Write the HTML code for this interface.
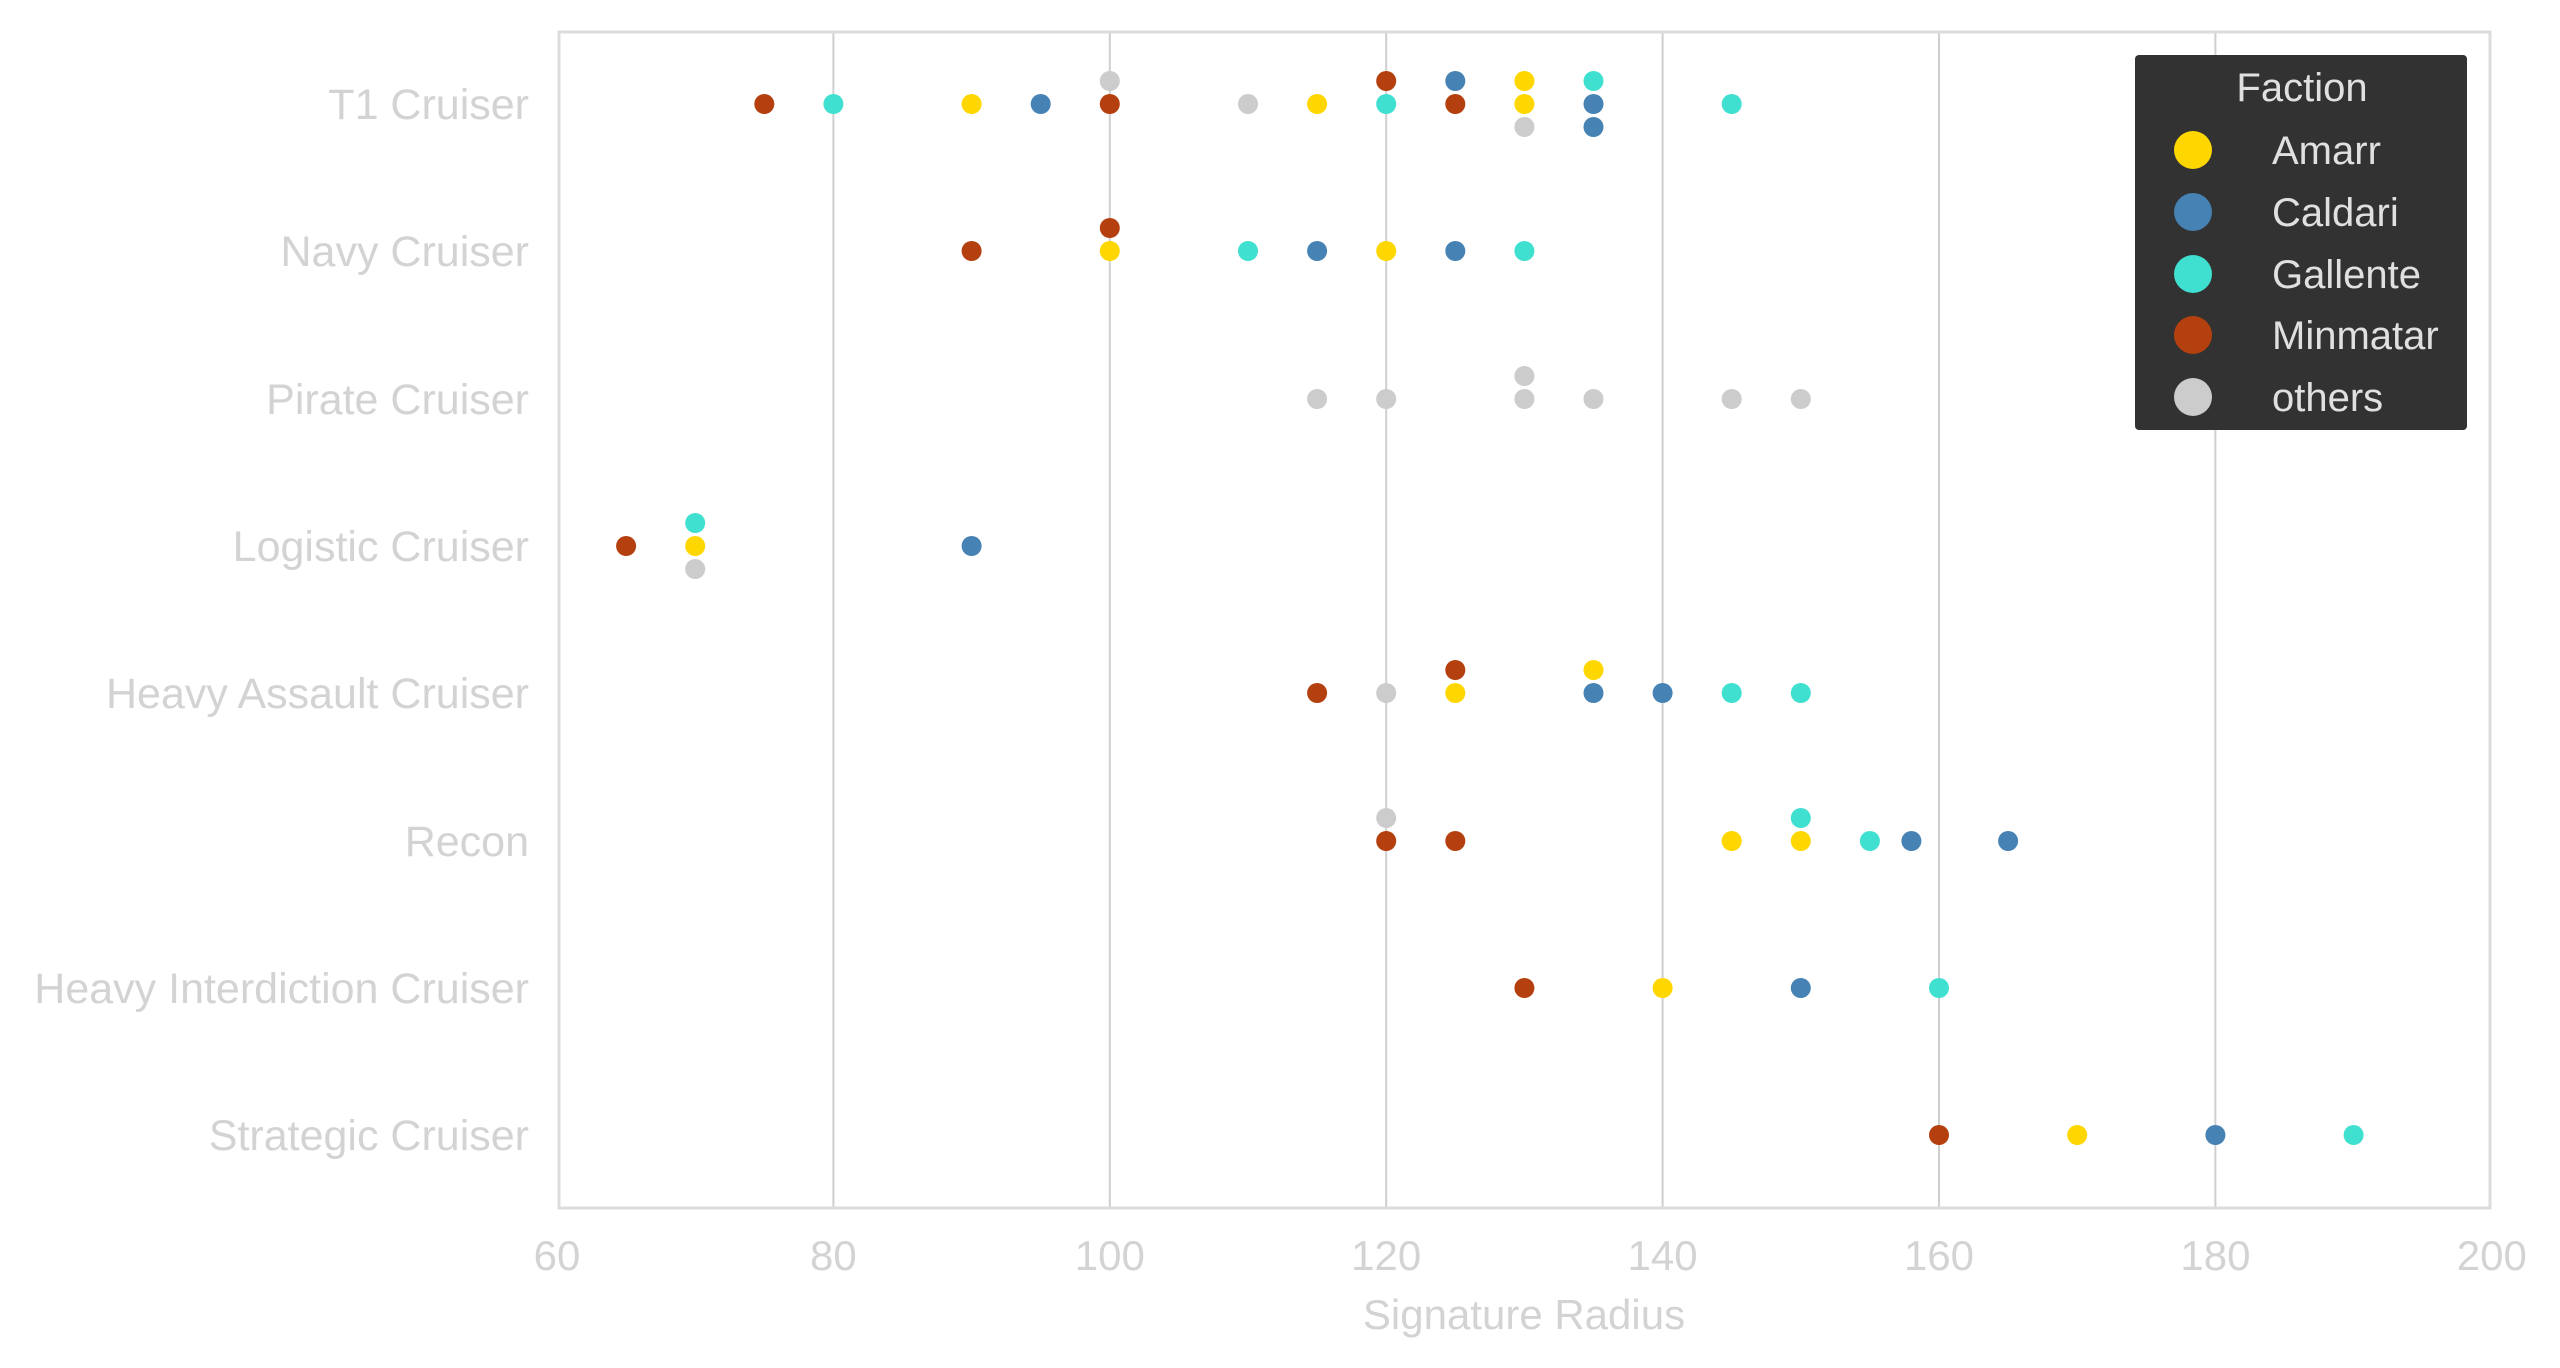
<!DOCTYPE html>
<html><head><meta charset="utf-8"><style>
html,body{margin:0;padding:0;background:#fff;}
svg{display:block;font-family:"Liberation Sans",sans-serif;}
</style></head><body>
<svg width="2560" height="1368" viewBox="0 0 2560 1368" xmlns="http://www.w3.org/2000/svg">
<g stroke="#cfcfcf" stroke-width="2">
<line x1="833.4" y1="32" x2="833.4" y2="1208"/>
<line x1="1109.8" y1="32" x2="1109.8" y2="1208"/>
<line x1="1386.2" y1="32" x2="1386.2" y2="1208"/>
<line x1="1662.6" y1="32" x2="1662.6" y2="1208"/>
<line x1="1939" y1="32" x2="1939" y2="1208"/>
<line x1="2215.4" y1="32" x2="2215.4" y2="1208"/>
</g>
<rect x="559" y="32" width="1931" height="1176" fill="none" stroke="#dcdcdc" stroke-width="3"/>
<g fill="#d3d3d3" font-size="43" text-anchor="end">
<text x="529" y="119">T1 Cruiser</text>
<text x="529" y="266">Navy Cruiser</text>
<text x="529" y="414">Pirate Cruiser</text>
<text x="529" y="561">Logistic Cruiser</text>
<text x="529" y="708">Heavy Assault Cruiser</text>
<text x="529" y="856">Recon</text>
<text x="529" y="1003">Heavy Interdiction Cruiser</text>
<text x="529" y="1150">Strategic Cruiser</text>
</g>
<g fill="#d3d3d3" font-size="42" text-anchor="middle">
<text x="557" y="1270">60</text>
<text x="833.4" y="1270">80</text>
<text x="1109.8" y="1270">100</text>
<text x="1386.2" y="1270">120</text>
<text x="1662.6" y="1270">140</text>
<text x="1939" y="1270">160</text>
<text x="2215.4" y="1270">180</text>
<text x="2491.8" y="1270">200</text>
<text x="1524" y="1329">Signature Radius</text>
</g>
<g>
<circle cx="1109.8" cy="81" r="10" fill="#cccccc"/>
<circle cx="1386.2" cy="81" r="10" fill="#b5400f"/>
<circle cx="1455.3" cy="81" r="10" fill="#4682b4"/>
<circle cx="1524.4" cy="81" r="10" fill="#ffd700"/>
<circle cx="1593.5" cy="81" r="10" fill="#40e0d0"/>
<circle cx="764.3" cy="104" r="10" fill="#b5400f"/>
<circle cx="833.4" cy="104" r="10" fill="#40e0d0"/>
<circle cx="971.6" cy="104" r="10" fill="#ffd700"/>
<circle cx="1040.7" cy="104" r="10" fill="#4682b4"/>
<circle cx="1109.8" cy="104" r="10" fill="#b5400f"/>
<circle cx="1248" cy="104" r="10" fill="#cccccc"/>
<circle cx="1317.1" cy="104" r="10" fill="#ffd700"/>
<circle cx="1386.2" cy="104" r="10" fill="#40e0d0"/>
<circle cx="1455.3" cy="104" r="10" fill="#b5400f"/>
<circle cx="1524.4" cy="104" r="10" fill="#ffd700"/>
<circle cx="1593.5" cy="104" r="10" fill="#4682b4"/>
<circle cx="1731.7" cy="104" r="10" fill="#40e0d0"/>
<circle cx="1524.4" cy="127" r="10" fill="#cccccc"/>
<circle cx="1593.5" cy="127" r="10" fill="#4682b4"/>
<circle cx="1109.8" cy="228" r="10" fill="#b5400f"/>
<circle cx="971.6" cy="251" r="10" fill="#b5400f"/>
<circle cx="1109.8" cy="251" r="10" fill="#ffd700"/>
<circle cx="1248" cy="251" r="10" fill="#40e0d0"/>
<circle cx="1317.1" cy="251" r="10" fill="#4682b4"/>
<circle cx="1386.2" cy="251" r="10" fill="#ffd700"/>
<circle cx="1455.3" cy="251" r="10" fill="#4682b4"/>
<circle cx="1524.4" cy="251" r="10" fill="#40e0d0"/>
<circle cx="1524.4" cy="376" r="10" fill="#cccccc"/>
<circle cx="1317.1" cy="399" r="10" fill="#cccccc"/>
<circle cx="1386.2" cy="399" r="10" fill="#cccccc"/>
<circle cx="1524.4" cy="399" r="10" fill="#cccccc"/>
<circle cx="1593.5" cy="399" r="10" fill="#cccccc"/>
<circle cx="1731.7" cy="399" r="10" fill="#cccccc"/>
<circle cx="1800.8" cy="399" r="10" fill="#cccccc"/>
<circle cx="695.2" cy="523" r="10" fill="#40e0d0"/>
<circle cx="626.1" cy="546" r="10" fill="#b5400f"/>
<circle cx="695.2" cy="546" r="10" fill="#ffd700"/>
<circle cx="971.6" cy="546" r="10" fill="#4682b4"/>
<circle cx="695.2" cy="569" r="10" fill="#cccccc"/>
<circle cx="1455.3" cy="670" r="10" fill="#b5400f"/>
<circle cx="1593.5" cy="670" r="10" fill="#ffd700"/>
<circle cx="1317.1" cy="693" r="10" fill="#b5400f"/>
<circle cx="1386.2" cy="693" r="10" fill="#cccccc"/>
<circle cx="1455.3" cy="693" r="10" fill="#ffd700"/>
<circle cx="1593.5" cy="693" r="10" fill="#4682b4"/>
<circle cx="1662.6" cy="693" r="10" fill="#4682b4"/>
<circle cx="1731.7" cy="693" r="10" fill="#40e0d0"/>
<circle cx="1800.8" cy="693" r="10" fill="#40e0d0"/>
<circle cx="1386.2" cy="818" r="10" fill="#cccccc"/>
<circle cx="1800.8" cy="818" r="10" fill="#40e0d0"/>
<circle cx="1386.2" cy="841" r="10" fill="#b5400f"/>
<circle cx="1455.3" cy="841" r="10" fill="#b5400f"/>
<circle cx="1731.7" cy="841" r="10" fill="#ffd700"/>
<circle cx="1800.8" cy="841" r="10" fill="#ffd700"/>
<circle cx="1869.9" cy="841" r="10" fill="#40e0d0"/>
<circle cx="1911.4" cy="841" r="10" fill="#4682b4"/>
<circle cx="2008.1" cy="841" r="10" fill="#4682b4"/>
<circle cx="1524.4" cy="988" r="10" fill="#b5400f"/>
<circle cx="1662.6" cy="988" r="10" fill="#ffd700"/>
<circle cx="1800.8" cy="988" r="10" fill="#4682b4"/>
<circle cx="1939" cy="988" r="10" fill="#40e0d0"/>
<circle cx="1939" cy="1135" r="10" fill="#b5400f"/>
<circle cx="2077.2" cy="1135" r="10" fill="#ffd700"/>
<circle cx="2215.4" cy="1135" r="10" fill="#4682b4"/>
<circle cx="2353.6" cy="1135" r="10" fill="#40e0d0"/>
</g>
<rect x="2135" y="55" width="332" height="375" rx="4" fill="#323232"/>
<g font-size="40" fill="#e0e0e0">
<text x="2302" y="101" text-anchor="middle">Faction</text>
<circle cx="2193" cy="150" r="19" fill="#ffd700"/>
<circle cx="2193" cy="212" r="19" fill="#4682b4"/>
<circle cx="2193" cy="274" r="19" fill="#40e0d0"/>
<circle cx="2193" cy="335" r="19" fill="#b5400f"/>
<circle cx="2193" cy="397" r="19" fill="#cccccc"/>
<text x="2272" y="164">Amarr</text>
<text x="2272" y="226">Caldari</text>
<text x="2272" y="288">Gallente</text>
<text x="2272" y="349">Minmatar</text>
<text x="2272" y="411">others</text>
</g>
</svg>
</body></html>
